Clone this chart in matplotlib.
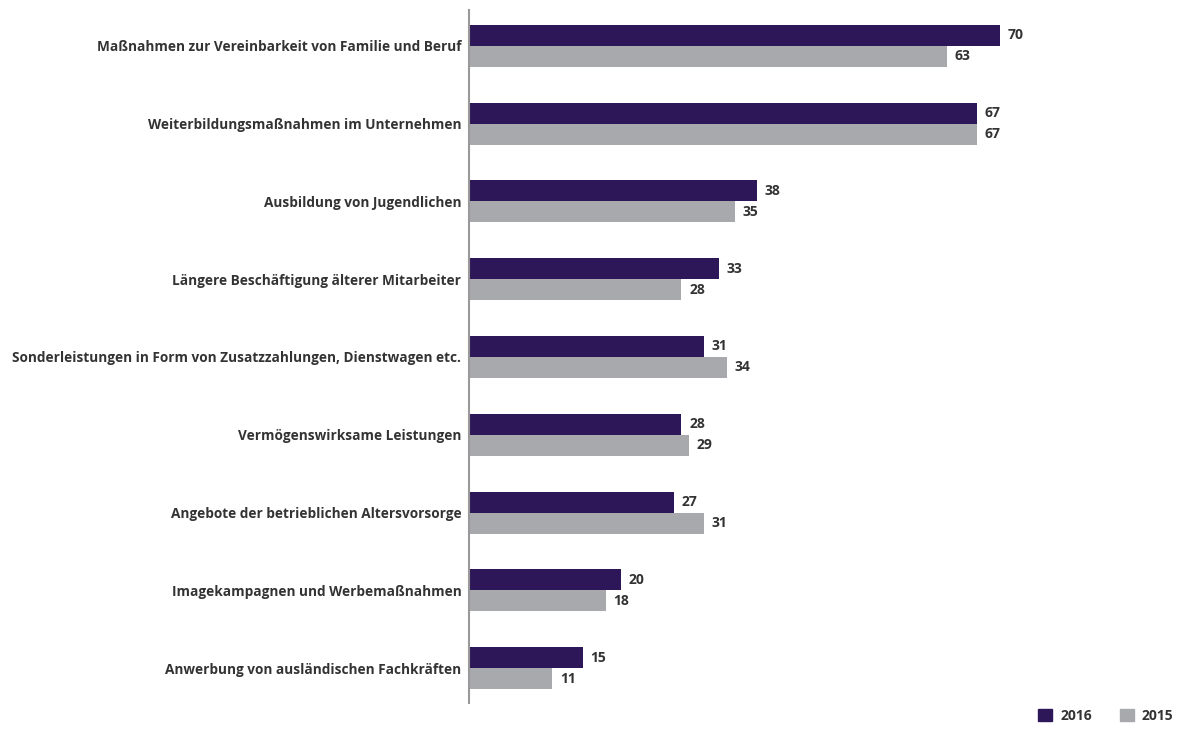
import numpy as np
import matplotlib.pyplot as plt
from matplotlib.patches import Patch

categories = [
    "Maßnahmen zur Vereinbarkeit von Familie und Beruf",
    "Weiterbildungsmaßnahmen im Unternehmen",
    "Ausbildung von Jugendlichen",
    "Längere Beschäftigung älterer Mitarbeiter",
    "Sonderleistungen in Form von Zusatzzahlungen, Dienstwagen etc.",
    "Vermögenswirksame Leistungen",
    "Angebote der betrieblichen Altersvorsorge",
    "Imagekampagnen und Werbemaßnahmen",
    "Anwerbung von ausländischen Fachkräften",
]
values_2016 = [70, 67, 38, 33, 31, 28, 27, 20, 15]
values_2015 = [63, 67, 35, 28, 34, 29, 31, 18, 11]

purple = "#2e1758"
grey = "#a8a9ad"
text_col = "#333333"

plt.rcParams["font.family"] = ["Open Sans", "DejaVu Sans"]

fig = plt.figure(figsize=(11.92, 7.35), dpi=100)
# axes placed in pixel terms: x from 469 to 1076 px, y from 10 to 703 px
ax = fig.add_axes([469 / 1192, 1 - 703 / 735, (1076 - 469) / 1192, 693 / 735])

y = np.arange(len(categories))
h = 0.27
ax.barh(y - h / 2, values_2016, height=h, color=purple, label="2016")
ax.barh(y + h / 2, values_2015, height=h, color=grey, label="2015")

for yi, v in zip(y, values_2016):
    ax.text(v + 1.0, yi - h / 2, str(v), va="center", ha="left",
            fontsize=10, fontweight="bold", color=text_col)
for yi, v in zip(y, values_2015):
    ax.text(v + 1.0, yi + h / 2, str(v), va="center", ha="left",
            fontsize=10, fontweight="bold", color=text_col)

ax.set_xlim(0, 80)
ax.set_ylim(len(categories) - 1 + 0.449, -0.4615)
ax.set_yticks(y)
ax.set_yticklabels(categories, fontsize=9.85, fontweight="bold", color=text_col)
ax.tick_params(axis="y", length=0, pad=5.5)
ax.set_xticks([])
for s in ["top", "right", "bottom"]:
    ax.spines[s].set_visible(False)
ax.spines["left"].set_color("#999999")
ax.spines["left"].set_linewidth(1.5)

handles = [Patch(color=purple, label="2016"), Patch(color=grey, label="2015")]
leg = fig.legend(handles=handles, loc="lower right", bbox_to_anchor=(0.995, 0.0),
                 ncol=2, frameon=False, handlelength=1.0, handleheight=1.0,
                 columnspacing=2.0, handletextpad=0.6,
                 prop={"size": 10, "weight": "bold"})
for t in leg.get_texts():
    t.set_color(text_col)

fig.savefig("out.png", dpi=100)
